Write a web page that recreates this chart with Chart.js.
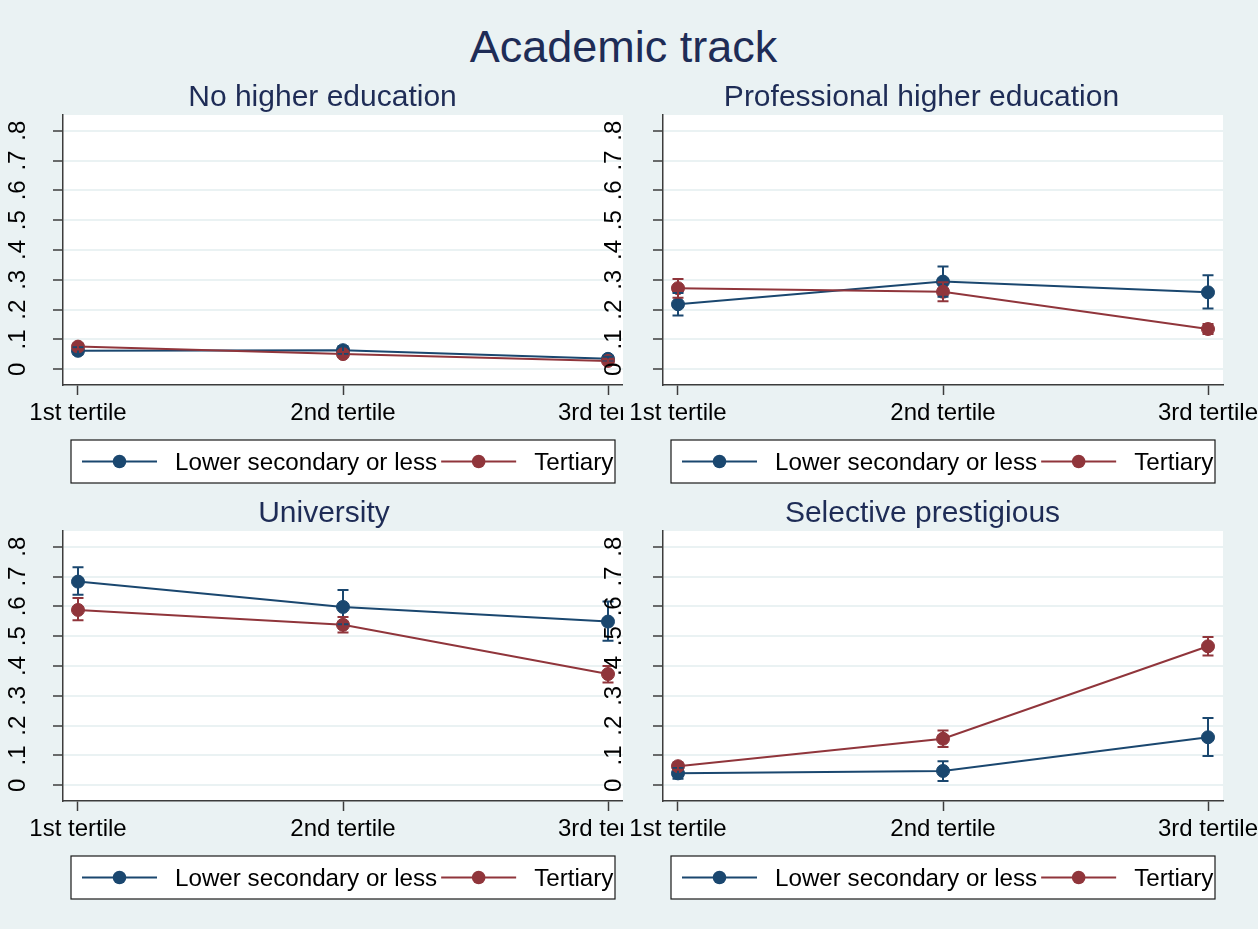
<!DOCTYPE html>
<html>
<head>
<meta charset="utf-8">
<script src="https://cdn.jsdelivr.net/npm/chart.js@4/dist/chart.umd.min.js"></script>
<style>
  body { margin: 0; background: #eaf2f3; }
  #page { position: relative; width: 1258px; height: 929px; overflow: hidden; font-family: "Liberation Sans", Arial, sans-serif; }
  #page canvas { position: absolute; }
  .title { position: absolute; z-index: 2; color: #1e2c56; white-space: nowrap; line-height: 1; transform: translateX(-50%); }
</style>
</head>
<body>
<div id="page"></div>
<script>
//--------------------------------------------------
// DATA
//--------------------------------------------------
const mainTitle = "Academic track";
const panelTitles = ["No higher education", "Professional higher education", "University", "Selective prestigious"];
const tertiles = ["1st tertile", "2nd tertile", "3rd tertile"];
const groupLabels = ["Lower secondary or less", "Tertiary"];
const yTicks = [0, 0.1, 0.2, 0.3, 0.4, 0.5, 0.6, 0.7, 0.8];

// no higher education
const noHigherLower = [0.062, 0.064, 0.035];
const noHigherLowerCI = [[0.050, 0.074], [0.052, 0.077], [0.028, 0.042]];
const noHigherTertiary = [0.076, 0.051, 0.028];
const noHigherTertiaryCI = [[0.066, 0.086], [0.044, 0.058], [0.023, 0.033]];

// professional higher education
const professionalLower = [0.218, 0.294, 0.258];
const professionalLowerCI = [[0.180, 0.256], [0.243, 0.345], [0.204, 0.315]];
const professionalTertiary = [0.272, 0.260, 0.135];
const professionalTertiaryCI = [[0.240, 0.303], [0.228, 0.292], [0.118, 0.152]];

// university
const universityLower = [0.683, 0.598, 0.549];
const universityLowerCI = [[0.639, 0.731], [0.540, 0.655], [0.485, 0.616]];
const universityTertiary = [0.588, 0.538, 0.373];
const universityTertiaryCI = [[0.553, 0.628], [0.512, 0.564], [0.345, 0.400]];

// selective prestigious
const selectiveLower = [0.040, 0.048, 0.161];
const selectiveLowerCI = [[0.022, 0.058], [0.014, 0.081], [0.098, 0.226]];
const selectiveTertiary = [0.064, 0.156, 0.466];
const selectiveTertiaryCI = [[0.052, 0.076], [0.128, 0.184], [0.435, 0.497]];

//--------------------------------------------------
// STYLE
//--------------------------------------------------
const FONT = "'Liberation Sans', Arial, sans-serif";
const BG = "#eaf2f3";
const GRID = "#eaf2f3";
const AXIS = "#3c3c3c";
const groupColors = ["#1a476f", "#90353b"];

const page = document.getElementById("page");

//--------------------------------------------------
// PLUGINS
//--------------------------------------------------
// panel background + white plot region
const panelBackground = {
    id: "panelBackground",
    beforeDraw(chart, args, opts) {
        const { ctx, chartArea: a } = chart;
        ctx.save();
        if (opts.from != null) {
            ctx.fillStyle = BG;
            ctx.fillRect(opts.from, 0, chart.width - opts.from, chart.height);
        }
        ctx.fillStyle = "#fff";
        ctx.fillRect(a.left, a.top, a.right - a.left, a.bottom - a.top);
        ctx.restore();
    }
};

// confidence interval caps
const ciCaps = {
    id: "ciCaps",
    afterDatasetsDraw(chart) {
        const { ctx, scales: { x, y } } = chart;
        chart.data.datasets.forEach(ds => {
            ctx.save();
            ctx.strokeStyle = ds.borderColor;
            ctx.lineWidth = 2;
            ds.ci.forEach(([lo, hi], i) => {
                const px = x.getPixelForValue(i);
                const top = y.getPixelForValue(hi);
                const bot = y.getPixelForValue(lo);
                ctx.beginPath();
                ctx.moveTo(px, top); ctx.lineTo(px, bot);
                ctx.moveTo(px - 5.5, top); ctx.lineTo(px + 5.5, top);
                ctx.moveTo(px - 5.5, bot); ctx.lineTo(px + 5.5, bot);
                ctx.stroke();
            });
            ctx.restore();
        });
    }
};

// boxed legend under the plot
const boxedLegend = {
    id: "boxedLegend",
    afterDraw(chart) {
        const { ctx, chartArea: a } = chart;
        const left = a.left + 8, top = a.bottom + 55;
        const w = a.right - a.left - 16, h = 43;
        ctx.save();
        ctx.fillStyle = "#fff";
        ctx.fillRect(left, top, w, h);
        ctx.strokeStyle = "#1a1a1a";
        ctx.lineWidth = 1.2;
        ctx.strokeRect(left, top, w, h);
        ctx.font = `24.2px ${FONT}`;
        ctx.textBaseline = "middle";
        const yi = top + h / 2;
        let xi = left + 11;
        groupLabels.forEach((label, k) => {
            ctx.strokeStyle = groupColors[k];
            ctx.fillStyle = groupColors[k];
            ctx.lineWidth = 2;
            ctx.beginPath();
            ctx.moveTo(xi, yi); ctx.lineTo(xi + 75, yi);
            ctx.stroke();
            ctx.beginPath();
            ctx.arc(xi + 37.5, yi, 6.8, 0, Math.PI * 2);
            ctx.fill();
            ctx.fillStyle = "#000";
            ctx.fillText(label, xi + 93, yi + 2);
            xi += 93 + ctx.measureText(label).width + 4;
        });
        ctx.restore();
    }
};

//--------------------------------------------------
// PANELS
//--------------------------------------------------
function addTitle(text, cx, top, size) {
    const d = document.createElement("div");
    d.className = "title";
    d.style.left = cx + "px";
    d.style.top = top + "px";
    d.style.fontSize = size + "px";
    d.textContent = text;
    page.appendChild(d);
}

function makeSeries(means, ci, k) {
    return {
        label: groupLabels[k],
        data: means.map((v, i) => ({ x: i, y: v })),
        ci: ci,
        borderColor: groupColors[k],
        backgroundColor: groupColors[k],
        pointBackgroundColor: groupColors[k],
        pointBorderColor: groupColors[k],
        borderWidth: 2,
        pointRadius: 6.5,
        pointBorderWidth: 1,
        tension: 0,
        order: k === 0 ? 1 : 0
    };
}

function makePanel(left, top, width, labelPad, bgFrom, series) {
    const canvas = document.createElement("canvas");
    canvas.width = width;
    canvas.height = 400;
    canvas.style.left = left + "px";
    canvas.style.top = top + "px";
    page.appendChild(canvas);

    return new Chart(canvas, {
        type: "line",
        data: { datasets: series },
        options: {
            responsive: false,
            animation: false,
            events: [],
            layout: { padding: { left: 0, top: 15, right: width - 623, bottom: 0 } },
            plugins: {
                legend: { display: false },
                tooltip: { enabled: false },
                panelBackground: { from: bgFrom }
            },
            scales: {
                x: {
                    type: "linear",
                    min: -0.0566,
                    max: 2.0566,
                    afterBuildTicks: s => { s.ticks = tertiles.map((t, i) => ({ value: i })); },
                    afterFit: s => { s.height = 115; s.paddingLeft = 0; s.paddingRight = 0; },
                    ticks: {
                        autoSkip: false,
                        maxRotation: 0,
                        padding: 4,
                        color: "#000",
                        font: { size: 24, family: FONT },
                        callback: v => tertiles[Math.round(v)]
                    },
                    grid: { drawOnChartArea: false, tickColor: AXIS, tickLength: 10, tickWidth: 1.5 },
                    border: { color: AXIS, width: 1.5 }
                },
                y: {
                    min: -0.0527,
                    max: 0.8527,
                    afterBuildTicks: s => { s.ticks = yTicks.map(v => ({ value: v })); },
                    afterFit: s => { s.width = 63; s.paddingTop = 0; s.paddingBottom = 0; },
                    ticks: {
                        minRotation: 90,
                        maxRotation: 90,
                        crossAlign: "center",
                        padding: labelPad,
                        color: "#000",
                        font: { size: 24, family: FONT },
                        callback: v => v === 0 ? "0" : "." + Math.round(v * 10)
                    },
                    grid: { color: GRID, lineWidth: 2, tickColor: AXIS, tickLength: 10, tickWidth: 1.5 },
                    border: { color: AXIS, width: 1.5 }
                }
            }
        },
        plugins: [panelBackground, ciCaps, boxedLegend]
    });
}

makePanel(0, 100, 645, 25, null, [
    makeSeries(noHigherLower, noHigherLowerCI, 0),
    makeSeries(noHigherTertiary, noHigherTertiaryCI, 1)
]);
makePanel(600, 100, 658, 29, 23, [
    makeSeries(professionalLower, professionalLowerCI, 0),
    makeSeries(professionalTertiary, professionalTertiaryCI, 1)
]);
makePanel(0, 516, 645, 25, null, [
    makeSeries(universityLower, universityLowerCI, 0),
    makeSeries(universityTertiary, universityTertiaryCI, 1)
]);
makePanel(600, 516, 658, 29, 23, [
    makeSeries(selectiveLower, selectiveLowerCI, 0),
    makeSeries(selectiveTertiary, selectiveTertiaryCI, 1)
]);

//--------------------------------------------------
// TITLES
//--------------------------------------------------
addTitle(mainTitle, 623.5, 24, 45);
addTitle(panelTitles[0], 322.5, 81, 30);
addTitle(panelTitles[1], 921.5, 81, 30);
addTitle(panelTitles[2], 324, 497, 30);
addTitle(panelTitles[3], 922.5, 497, 30);
</script>
</body>
</html>
